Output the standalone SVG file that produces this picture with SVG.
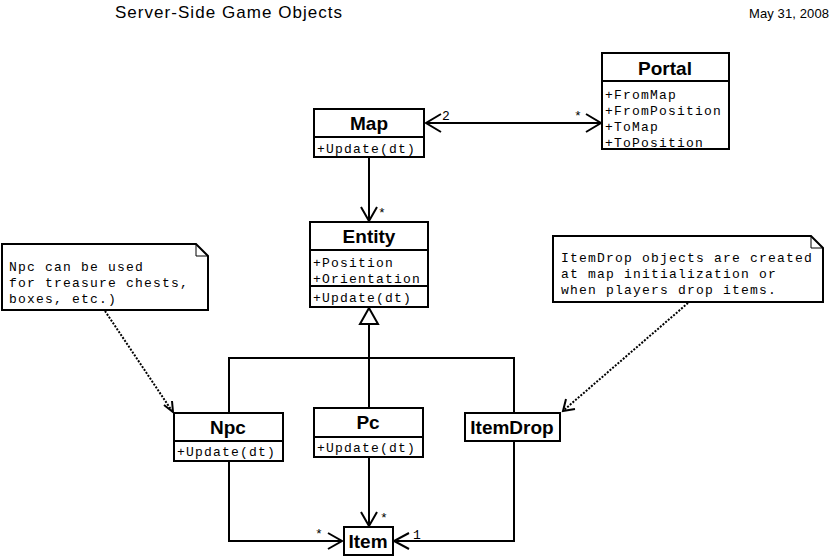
<svg xmlns="http://www.w3.org/2000/svg" width="836" height="557" viewBox="0 0 836 557">
<style>
.box{fill:#fff;stroke:#000;stroke-width:2}
.sep{stroke:#000;stroke-width:2}
.t{font-family:"Liberation Sans",Arial,sans-serif;font-weight:bold;font-size:19px;text-anchor:middle}
.m{font-family:"Liberation Mono","Courier New",monospace;font-size:13px;letter-spacing:1.2px}
.lbl{font-family:"Liberation Mono","Courier New",monospace;font-size:13px}
.c{fill:none;stroke:#000;stroke-width:2}
.d{fill:none;stroke:#000;stroke-width:2;stroke-dasharray:2 1.5}
.a{fill:none;stroke:#000;stroke-width:2}
.tri{fill:#fff;stroke:#000;stroke-width:2}
</style>
<rect width="836" height="557" fill="#fff"/>
<text x="115" y="18" font-family="Liberation Sans,Arial,sans-serif" font-size="17" textLength="227">Server-Side Game Objects</text>
<text x="749" y="18" font-family="Liberation Sans,Arial,sans-serif" font-size="13" textLength="80">May 31, 2008</text>

<g id="connectors">
  <line class="c" x1="426" y1="123" x2="600" y2="123"/>
  <polyline class="a" points="441,114 426,123 441,132"/>
  <polyline class="a" points="586,114 601,123 586,132"/>
  <text class="lbl" x="442" y="120">2</text>
  <text class="lbl" x="574" y="120">*</text>
  <line class="c" x1="369" y1="157" x2="369" y2="221"/>
  <polyline class="a" points="361,207 369,221 377,207"/>
  <text class="lbl" x="378" y="217">*</text>
  <polyline class="c" points="229,413 229,358 514,358 514,413"/>
  <line class="c" x1="369" y1="324" x2="369" y2="408"/>
  <polygon class="tri" points="369,308 360,324 378,324"/>
  <polyline class="c" points="229,461 229,541 342,541"/>
  <polyline class="a" points="328,533 342,541 328,549"/>
  <text class="lbl" x="315" y="538">*</text>
  <line class="c" x1="369" y1="457" x2="369" y2="526"/>
  <polyline class="a" points="361,512 369,526 377,512"/>
  <text class="lbl" x="380" y="522">*</text>
  <polyline class="c" points="514,441 514,541 394,541"/>
  <polyline class="a" points="409,533 394,541 409,549"/>
  <text class="lbl" x="413" y="539">1</text>
  <line class="d" x1="105" y1="311" x2="172" y2="411"/>
  <polyline class="a" stroke-width="1.5" points="164,405 173,412 172,401"/>
  <line class="d" x1="688" y1="303" x2="564" y2="410"/>
  <polyline class="a" stroke-width="1.5" points="566,399 563,411 575,409"/>
</g>

<g id="map">
  <rect class="box" x="314" y="109" width="110" height="48"/>
  <line class="sep" x1="314" y1="137" x2="424" y2="137"/>
  <text class="t" x="369" y="130">Map</text>
  <text class="m" x="317" y="153">+Update(dt)</text>
</g>

<g id="portal">
  <rect class="box" x="602" y="53" width="127" height="96"/>
  <line class="sep" x1="602" y1="81" x2="729" y2="81"/>
  <text class="t" x="665" y="75">Portal</text>
  <text class="m" x="605" y="99">+FromMap</text>
  <text class="m" x="605" y="115">+FromPosition</text>
  <text class="m" x="605" y="131">+ToMap</text>
  <text class="m" x="605" y="147">+ToPosition</text>
</g>

<g id="entity">
  <rect class="box" x="310" y="222" width="118" height="85"/>
  <line class="sep" x1="310" y1="250" x2="428" y2="250"/>
  <line class="sep" x1="310" y1="286" x2="428" y2="286"/>
  <text class="t" x="369" y="243">Entity</text>
  <text class="m" x="313" y="267">+Position</text>
  <text class="m" x="313" y="283">+Orientation</text>
  <text class="m" x="313" y="302">+Update(dt)</text>
</g>

<g id="npc">
  <rect class="box" x="174" y="413" width="109" height="48"/>
  <line class="sep" x1="174" y1="441" x2="283" y2="441"/>
  <text class="t" x="228" y="434">Npc</text>
  <text class="m" x="177" y="456">+Update(dt)</text>
</g>

<g id="pc">
  <rect class="box" x="314" y="408" width="109" height="49"/>
  <line class="sep" x1="314" y1="437" x2="423" y2="437"/>
  <text class="t" x="368" y="429">Pc</text>
  <text class="m" x="317" y="452">+Update(dt)</text>
</g>

<g id="itemdrop">
  <rect class="box" x="465" y="413" width="95" height="28"/>
  <text class="t" x="512" y="434">ItemDrop</text>
</g>

<g id="item">
  <rect class="box" x="344" y="527" width="49" height="28"/>
  <text class="t" x="368" y="548">Item</text>
</g>

<g id="note-npc">
  <path class="box" d="M2,244 H196 L208,256 V310 H2 Z"/>
  <polyline fill="none" stroke="#000" stroke-width="1" points="196,244 196,256 208,256"/>
  <text class="m" x="9" y="271">Npc can be used</text>
  <text class="m" x="9" y="287">for treasure chests,</text>
  <text class="m" x="9" y="303">boxes, etc.)</text>
</g>

<g id="note-itemdrop">
  <path class="box" d="M553,236 H811 L823,248 V302 H553 Z"/>
  <polyline fill="none" stroke="#000" stroke-width="1" points="811,236 811,248 823,248"/>
  <text class="m" x="561" y="262">ItemDrop objects are created</text>
  <text class="m" x="561" y="278">at map initialization or</text>
  <text class="m" x="561" y="294">when players drop items.</text>
</g>
</svg>
